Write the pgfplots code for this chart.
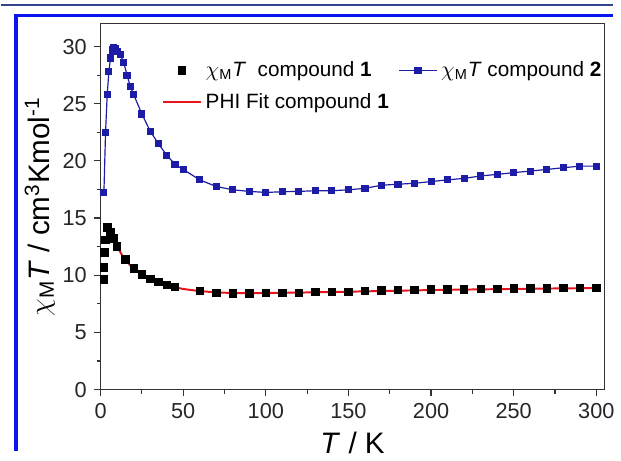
\documentclass[border=0pt]{standalone}
\usepackage{fontspec}
\setmainfont{Liberation Sans}
\usepackage{pgfplots}
\pgfplotsset{compat=1.18}
\definecolor{frameblue}{HTML}{0A14F0}
\definecolor{navyline}{HTML}{34438E}
\definecolor{cmpblue}{HTML}{1C1CA6}
\definecolor{fitred}{HTML}{E8141C}
\definecolor{axgray}{HTML}{333333}

\begin{document}
\begin{tikzpicture}[x=1pt,y=1pt]
% page frame: 621 x 457 px at 0.5pt per px
\path (0,0) rectangle (310.5,228.5);
\draw[navyline, line width=1pt] (0,226) -- (310.5,226);
\draw[frameblue, line width=1.6pt] (6.5,220.5) -- (310.5,220.5);
\draw[frameblue, line width=2pt] (7.5,0) -- (7.5,221.3);

\begin{axis}[
  at={(50.5pt,31pt)}, anchor=south west,
  scale only axis, width=255.5pt, height=185.5pt,
  xmin=0, xmax=305, ymin=0, ymax=32,
  xtick={0,50,...,300}, ytick={0,5,...,30},
  minor x tick num=1, minor y tick num=1,
  tick align=outside, tick pos=left,
  major tick length=3.5pt, minor tick length=2pt,
  axis line style={axgray, line width=0.7pt},
  every tick/.style={axgray, line width=0.6pt},
  ticklabel style={font=\fontsize{11}{13}\selectfont, text=black!85},
  /pgf/number format/assume math mode=true,
  xlabel={\textit{T} / K},
  ylabel={$\chi$\textsubscript{M}\textit{T} / cm\textsuperscript{3}Kmol\textsuperscript{-1}},
  label style={font=\fontsize{15}{18}\selectfont},
  ylabel style={yshift=-3pt},
  legend columns=2,
  legend cell align=left,
  legend style={draw=none, fill=none, at={(0.11,0.92)}, anchor=north west,
    font=\fontsize{10.5}{12}\selectfont, row sep=3pt,
    /tikz/every even column/.append style={column sep=3pt}},
  legend image code/.code={\draw[mark repeat=2,mark phase=2,#1]
    plot coordinates {(0pt,0pt) (9.5pt,0pt) (19pt,0pt)};},
]
% compound 1
\addplot[only marks, mark=square*, mark size=1.9pt, black] coordinates {
(2.0,9.63)(2.1,10.7)(2.3,12.0)(3,13.1)(4,14.2)(6,13.8)(8,13.2)(10,12.5)
(15,11.4)(20,10.6)(25,10.06)(30,9.68)(35,9.4)(40,9.14)(45,8.97)
(60,8.62)(70,8.47)(80,8.42)(90,8.42)(100,8.47)(110,8.47)(120,8.47)
(130,8.53)(140,8.56)(150,8.56)(160,8.62)(170,8.68)(180,8.7)(190,8.72)
(200,8.74)(210,8.76)(220,8.78)(230,8.8)(240,8.82)(250,8.83)(260,8.85)
(270,8.86)(280,8.87)(290,8.88)(300,8.9)};
\addlegendentry{$\chi$\textsubscript{M}\textit{T}\ \ compound \textbf{1}}
% compound 2
\addplot[cmpblue, line width=0.6pt, mark=square*, mark size=1.5pt] coordinates {
(2,17.2)(3,22.5)(4,25.8)(5,27.8)(6,29.0)(7,29.7)(8,29.9)(9,29.8)(10,29.6)
(12,29.3)(14,28.6)(16,27.5)(18,26.5)(20,25.8)(25,24.1)(30,22.6)(35,21.5)
(40,20.5)(45,19.7)(50,19.25)(60,18.34)(70,17.76)(80,17.47)(90,17.33)
(100,17.24)(110,17.3)(120,17.33)(130,17.39)(140,17.39)(150,17.47)
(160,17.6)(170,17.87)(180,17.96)(190,18.04)(200,18.19)(210,18.34)
(220,18.47)(230,18.68)(240,18.82)(250,18.97)(260,19.11)(270,19.25)
(280,19.4)(290,19.54)(300,19.54)};
\addlegendentry{$\chi$\textsubscript{M}\textit{T} compound \textbf{2}}
% PHI fit
\addplot[fitred, line width=1pt, smooth] coordinates {
(4.5,13.95)(5,13.9)(6,13.7)(7,13.45)(8,13.15)(9,12.85)(10,12.55)(12,12.0)
(14,11.55)(16,11.2)(18,10.85)(20,10.55)(25,10.05)(30,9.68)(35,9.38)
(40,9.13)(45,8.95)(50,8.8)(55,8.7)(60,8.62)(70,8.5)(80,8.45)(90,8.43)
(100,8.45)(120,8.48)(150,8.56)(200,8.7)(250,8.8)(300,8.88)};
\addlegendentry{PHI Fit compound \textbf{1}}
\end{axis}
\end{tikzpicture}
\end{document}
